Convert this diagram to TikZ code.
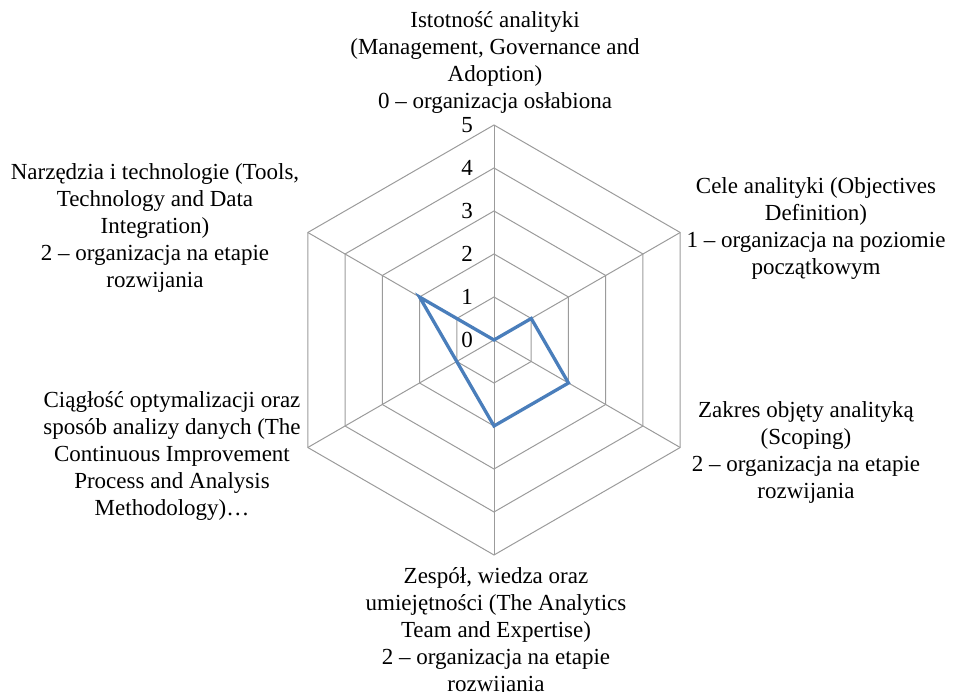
\documentclass[tikz,border=0pt]{standalone}
\usepackage{fontspec}
\setmainfont{Liberation Serif}
\definecolor{gridc}{RGB}{155,155,155}
\definecolor{serc}{RGB}{74,126,187}
\begin{document}
\begin{tikzpicture}[x=1pt,y=1pt,
  gridline/.style={draw=gridc,line width=1pt},
  series/.style={draw=serc,line width=3.3pt,line join=miter},
  lab/.style={font=\fontsize{23}{27}\selectfont,align=center,inner sep=0pt},
  tick/.style={font=\fontsize{23}{27}\selectfont,inner sep=0pt,anchor=east}]
\useasboundingbox (0,0) rectangle (953,692);
\coordinate (C) at (494,352);
\begin{scope}[shift={(C)}]
  \foreach \k in {1,...,5}{
    \draw[gridline] (90:\k*43pt) -- (30:\k*43pt) -- (-30:\k*43pt) -- (-90:\k*43pt) -- (-150:\k*43pt) -- (150:\k*43pt) -- cycle;
  }
  \foreach \a in {90,30,-30,-90,-150,150}{
    \draw[gridline] (0,0) -- (\a:215pt);
  }
  \coordinate (p1) at (0,0);
  \coordinate (p2) at (30:43pt);
  \coordinate (p3) at (-30:86pt);
  \coordinate (p4) at (-90:86pt);
  \coordinate (p5) at (-150:43pt);
  \coordinate (p6) at (150:86pt);
  \foreach \k in {0,...,5}{
    \node[tick] (t\k) at (-21pt,\k*43pt) {\k};
  }
\end{scope}
\draw[series] (p1) -- (p2) -- (p3) -- (p4) -- (p5) -- (p6) -- cycle;

\node[lab] (L1) at (495,630) {Istotność analityki\\(Management, Governance and\\Adoption)\\0 – organizacja osłabiona};
\node[lab] (L2) at (816,463) {Cele analityki (Objectives\\Definition)\\1 – organizacja na poziomie\\początkowym};
\node[lab] (L3) at (806,239.5) {Zakres objęty analityką\\(Scoping)\\2 – organizacja na etapie\\rozwijania};
\node[lab] (L4) at (496,60) {Zespół, wiedza oraz\\umiejętności (The Analytics\\Team and Expertise)\\2 – organizacja na etapie\\rozwijania};
\node[lab] (L5) at (172,236) {Ciągłość optymalizacji oraz\\sposób analizy danych (The\\Continuous Improvement\\Process and Analysis\\Methodology)…};
\node[lab] (L6) at (155,464.5) {Narzędzia i technologie (Tools,\\Technology and Data\\Integration)\\2 – organizacja na etapie\\rozwijania};
\end{tikzpicture}
\end{document}
